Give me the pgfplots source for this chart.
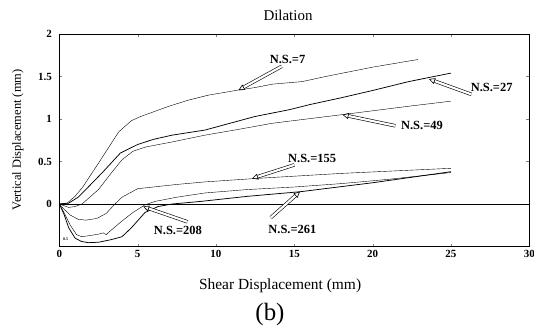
\documentclass[border=0pt]{standalone}
\usepackage{pgfplots}
\pgfplotsset{compat=1.18}
\usepackage{fontspec}
\setmainfont{Liberation Serif}
\usetikzlibrary{arrows.meta}
\begin{document}
\begin{tikzpicture}
\path[use as bounding box] (-59.3bp,-84.5bp) rectangle (474.7bp,246.5bp);
\begin{axis}[
  at={(0,0)}, anchor=south west,
  scale only axis, width=470bp, height=212.5bp,
  xmin=0, xmax=30, ymin=-0.5, ymax=2,
  xtick={0,5,10,15,20,25,30},
  xticklabels={0,5,10,15,20,25,30},
  ytick={0,0.5,1,1.5,2},
  yticklabels={0,0.5,1,1.5,2},
  /pgf/number format/assume math mode=true,
  tick label style={font=\fontsize{11}{12}\selectfont\bfseries},
  xticklabel style={yshift=-0.5bp},
  yticklabel style={xshift=-4bp},
  tick align=inside, major tick length=3bp,
  axis line style={line width=0.9pt},
  cycle list={{black, solid, line width=0.75pt, mark=none}},
  clip=false,
]
% zero line
\addplot coordinates {(0,0) (30,0)};
% N.S.=7
\addplot coordinates {(0,0) (0.5,0.01) (1,0.09) (1.5,0.2) (2.5,0.48) (3.2,0.68) (3.8,0.85) (4.6,0.98) (5.2,1.03) (6.1,1.09) (7,1.15) (8.2,1.22) (9.5,1.28) (11.4,1.34) (12.5,1.37) (13.6,1.41) (15.5,1.44) (16,1.46) (17,1.5) (20,1.61) (22.9,1.70)};
% N.S.=27
\addplot coordinates {(0,0) (0.6,0.01) (1.2,0.08) (1.85,0.2) (2.8,0.38) (3.5,0.52) (3.9,0.6) (5,0.7) (6,0.76) (7.2,0.81) (9.3,0.87) (10.1,0.91) (12.5,1.03) (14.7,1.11) (16,1.17) (18,1.25) (20.1,1.34) (22.3,1.44) (25,1.54)};
% N.S.=49
\addplot coordinates {(0,0) (0.6,-0.04) (1,-0.03) (1.45,0) (2.5,0.17) (3.3,0.36) (4,0.52) (4.7,0.62) (5.5,0.67) (7.2,0.73) (9.3,0.81) (11.5,0.88) (13.6,0.95) (18,1.05) (22.3,1.15) (25,1.21)};
% N.S.=155
\addplot coordinates {(0,0) (0.3,-0.06) (0.7,-0.13) (1.2,-0.18) (1.7,-0.19) (2.4,-0.17) (3,-0.11) (3.5,-0.01) (4,0.08) (4.5,0.13) (5,0.18) (6,0.2) (7.5,0.23) (9.3,0.26) (12.5,0.3) (18,0.36) (25,0.42)};
% N.S.=208
\addplot coordinates {(0,0) (0.3,-0.1) (0.7,-0.25) (1.1,-0.36) (1.43,-0.385) (2,-0.37) (2.5,-0.355) (2.8,-0.34) (3,-0.36) (3.3,-0.31) (4,-0.2) (4.7,-0.1) (5.47,-0.01) (6.1,0.03) (7.5,0.08) (9.3,0.13) (12,0.17) (15,0.2) (18,0.24) (21,0.29) (25,0.37)};
% N.S.=261
\addplot coordinates {(0,0) (0.3,-0.12) (0.6,-0.28) (1,-0.4) (1.4,-0.44) (1.85,-0.455) (2.5,-0.45) (3.3,-0.42) (4,-0.385) (4.6,-0.28) (5.47,-0.1) (6.3,-0.03) (7.2,0.0) (9,0.03) (12,0.09) (15.4,0.145) (20,0.25) (25,0.38)};
% arrows
\tikzset{hollow/.style={double=white, double distance=2.2pt, line width=0.6pt, -{Triangle[open, length=6pt, width=6pt]}}}
\draw[hollow] (axis cs:14.2,1.62) -- (axis cs:11.44,1.34);
\draw[hollow] (axis cs:26.3,1.29) -- (axis cs:23.6,1.47);
\draw[hollow] (axis cs:21.45,0.92) -- (axis cs:18.08,1.05);
\draw[hollow] (axis cs:15.0,0.46) -- (axis cs:12.3,0.30);
\draw[hollow] (axis cs:8.18,-0.21) -- (axis cs:5.35,-0.03);
\draw[hollow] (axis cs:13.5,-0.16) -- (axis cs:15.36,0.145);
% labels
\tikzset{nsl/.style={font=\fontsize{12.5}{14}\selectfont\bfseries, inner sep=0pt}}
\node[nsl] at (axis cs:14.57,1.70) {N.S.=7};
\node[nsl] at (axis cs:27.6,1.375) {N.S.=27};
\node[nsl] at (axis cs:23.15,0.92) {N.S.=49};
\node[nsl] at (axis cs:16.14,0.54) {N.S.=155};
\node[nsl] at (axis cs:7.57,-0.31) {N.S.=208};
\node[nsl] at (axis cs:14.88,-0.30) {N.S.=261};
\node[font=\fontsize{4}{5}\selectfont\bfseries, inner sep=0pt] at (axis cs:0.4,-0.41) {0.5};
\end{axis}
\node[font=\fontsize{15}{17}\selectfont] at (228.7bp,231.5bp) {Dilation};
\node[font=\fontsize{15.5}{17}\selectfont] at (220.8bp,-39.5bp) {Shear Displacement (mm)};
\node[font=\fontsize{25}{28}\selectfont] at (210.7bp,-68.5bp) {(b)};
\node[font=\fontsize{12.5}{14}\selectfont, rotate=90] at (-41.3bp,106.5bp) {Vertical Displacement (mm)};
\end{tikzpicture}
\end{document}
